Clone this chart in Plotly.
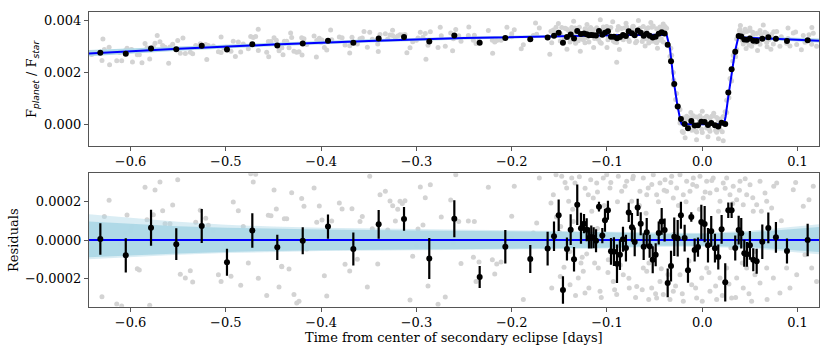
import numpy as np
import plotly.graph_objects as go

# best-fit eclipse model (knots)
model_t = [-0.644, -0.55, -0.45, -0.35, -0.25, -0.15, -0.08, -0.0374, -0.0339, -0.0304, -0.0262,
           -0.0227, -0.0215, 0.0228, 0.0245, 0.0273, 0.0308, 0.0343, 0.0378, 0.071, 0.1225]
model_f = [0.00273, 0.00292, 0.00308, 0.00322, 0.00333, 0.00341, 0.00345, 0.00346, 0.00293, 0.00178, 0.00075,
           0.0001, 0.0, 0.0, 0.0003, 0.00107, 0.00197, 0.0028, 0.00336, 0.0033, 0.00323]

# uncertainty envelope of the fit, residual units (ppm)
band_t = [-0.644, -0.6, -0.55, -0.5, -0.45, -0.4, -0.3, -0.2, -0.1, -0.05, 0.0, 0.05, 0.1, 0.1225]
band_in_hi = [97, 85, 72, 64, 58, 55, 50, 45, 40, 32, 32, 40, 60, 68]
band_in_lo = [-90, -80, -70, -62, -57, -53, -50, -45, -40, -30, -30, -38, -55, -62]
band_out_hi = [135, 115, 95, 80, 70, 64, 57, 50, 44, 37, 37, 48, 72, 82]
band_out_lo = [-100, -88, -77, -68, -62, -58, -54, -49, -44, -35, -35, -44, -65, -75]

# binned points: time, residual (ppm), error (ppm)
bin_t = [-0.6317, -0.605, -0.5785, -0.552, -0.5253, -0.4988, -0.4722, -0.446, -0.4193, -0.3928,
         -0.3662, -0.3396, -0.313, -0.2865, -0.2602, -0.2336, -0.2067, -0.1805, -0.1623, -0.1556,
         -0.1507, -0.1462, -0.142, -0.1381, -0.1346, -0.1312, -0.1273, -0.1241, -0.1213, -0.1189,
         -0.1165, -0.114, -0.1115, -0.1084, -0.1049, -0.1021, -0.099, -0.0958, -0.0927, -0.0895,
         -0.0864, -0.0832, -0.0801, -0.0772, -0.0738, -0.0709, -0.0678, -0.0646, -0.0615, -0.0583,
         -0.0552, -0.052, -0.0489, -0.0457, -0.0426, -0.0395, -0.0363, -0.0328, -0.0294, -0.0258,
         -0.0224, -0.0185, -0.015, -0.0115, -0.008, -0.0045, -0.001, 0.0025, 0.006, 0.0094,
         0.0133, 0.0168, 0.0203, 0.0241, 0.0273, 0.0308, 0.0346, 0.0382, 0.0409, 0.0441,
         0.0469, 0.05, 0.0535, 0.0571, 0.063, 0.0693, 0.0773, 0.0889, 0.1106]
bin_res = [5, -80, 64, -22, 73, -116, 49, -38, -4, 70,
           -47, 82, 110, -96, 111, -193, -35, -99, -45, 19,
           129, -261, -47, 54, -101, 184, 61, 85, 54, 10,
           16, 12, -4, 174, 23, 103, 155, -59, -61, -124,
           -77, 4, -42, 144, 66, -10, 170, 85, -35, 40,
           -33, -103, -77, 37, 97, 52, -224, -136, 17, 9,
           129, 10, -158, 120, -52, -37, 94, 83, -28, 45,
           -43, -89, 56, -221, 155, 155, -42, 52, 35, -69,
           -75, -28, -103, -111, -9, 63, 14, -57, 0]
bin_err = [82, 89, 94, 83, 89, 70, 90, 66, 71, 63,
           86, 75, 62, 107, 97, 57, 87, 73, 88, 77,
           82, 72, 60, 80, 64, 106, 81, 50, 60, 55,
           60, 55, 60, 25, 40, 60, 50, 70, 75, 100,
           80, 65, 70, 50, 75, 75, 45, 60, 70, 75,
           60, 70, 60, 60, 70, 60, 75, 80, 100, 95,
           70, 70, 65, 25, 60, 50, 90, 95, 90, 80,
           75, 65, 75, 100, 40, 40, 65, 75, 80, 70,
           65, 75, 60, 65, 90, 80, 80, 65, 85]

# unbinned points: time, residual (ppm)
raw_t = [-0.630, -0.6225, -0.6275, -0.6145, -0.6093, -0.6037, -0.5988, -0.5929, -0.5908, -0.5848,
         -0.5827, -0.5799, -0.5761, -0.5743, -0.5691, -0.5663, -0.5638, -0.5586, -0.5558, -0.5505,
         -0.5478, -0.5425, -0.5373, -0.5348, -0.5316, -0.5268, -0.5211, -0.5184, -0.5131, -0.5078,
         -0.505, -0.5022, -0.4946, -0.4922, -0.4869, -0.4844, -0.4817, -0.4764, -0.4739, -0.4712,
         -0.4687, -0.4659, -0.4571, -0.4554, -0.4526, -0.4494, -0.447, -0.4442, -0.4413, -0.4386,
         -0.6113, -0.6057, -0.6407,
         -0.4361, -0.4414, -0.4337, -0.4309, -0.4285, -0.4256, -0.4232, -0.4204, -0.418, -0.4151,
         -0.4074, -0.4046, -0.4019, -0.3991, -0.3966, -0.3941, -0.3889, -0.3809, -0.378, -0.3749,
         -0.37, -0.3676, -0.362, -0.3592, -0.3568, -0.3515, -0.349, -0.3463, -0.3406, -0.3382,
         -0.3326, -0.3301, -0.3277, -0.3249, -0.3221, -0.3196, -0.3172, -0.3148, -0.312, -0.3067,
         -0.3039, -0.2983, -0.2959, -0.2931, -0.2907, -0.2878, -0.2854, -0.2773, -0.2739, -0.2697,
         -0.264, -0.2612, -0.2587, -0.2556, -0.2532, -0.2455, -0.2402, -0.2374, -0.2343,
         -0.2392, -0.2245, -0.2203, -0.2157, -0.2112, -0.2178, -0.2, -0.1973, -0.1878, -0.1773,
         -0.1738, -0.171, -0.1588, -0.1563, -0.1535, -0.1486, -0.1475, -0.1451, -0.1423, -0.1402,
         -0.137, -0.1388, -0.1354, -0.1336, -0.1301, -0.1273, -0.1249, -0.1231, -0.1213, -0.1196,
         -0.1171, -0.1144, -0.1108, -0.1091, -0.1073, -0.1039, -0.1003, -0.0986, -0.0969, -0.0934,
         -0.0898, -0.0881, -0.0846, -0.0829, -0.0793, -0.0766, -0.0741, -0.0724, -0.0688, -0.0654,
         -0.0619, -0.0583, -0.0562,
         -0.0619, -0.0567, -0.0514, -0.0479, -0.0444, -0.0391, -0.0374, -0.0321, -0.0304, -0.0269,
         -0.0234, -0.0199, -0.0164, -0.0129, -0.0094, -0.0059, -0.0024, 0.001, 0.0046, 0.0081,
         0.0115, 0.0151, 0.0186, 0.022, 0.0256, 0.0291, 0.0325, 0.0361, 0.0396, 0.043,
         0.0466, 0.0501, 0.0535, 0.0571, 0.0606, 0.0658, 0.0676, 0.0728, 0.0781, 0.0955,
         0.106, 0.1165, -0.0583, -0.0531, -0.0479, -0.0444, -0.0409, -0.0339, -0.0304, -0.0234,
         -0.0199, -0.0111, -0.0059, -0.0006, 0.0046, 0.0081, 0.0151, 0.0186, 0.0256, 0.0308,
         0.0361, 0.043, 0.0466, 0.0518, 0.0553, 0.0606, 0.0676, 0.0746, 0.0815, 0.0885,
         0.0991, 0.1078, 0.1148, 0.12,
         -0.158, -0.153, -0.149, -0.144, -0.139, -0.136, -0.133, -0.129, -0.126, -0.123,
         -0.119, -0.116, -0.113, -0.11, -0.106, -0.103, -0.099, -0.096, -0.092, -0.089,
         -0.086, -0.081, -0.077, -0.073, -0.07, -0.066, -0.063, -0.059, -0.056, -0.053,
         -0.049, -0.046, -0.043, -0.04, -0.036, -0.033, -0.028, -0.025, -0.021, -0.017,
         -0.014, -0.01, -0.007, -0.003, 0.0, 0.003, 0.007, 0.01, 0.014, 0.017,
         0.021, 0.024, 0.028, 0.032, 0.035, 0.039, 0.042, 0.045, 0.049, 0.053,
         0.056, 0.062, 0.068, 0.075, 0.083, 0.092, 0.098, 0.112,
         -0.15, -0.13, -0.11, -0.09, -0.07, -0.05, -0.03, -0.01, 0.01, 0.03,
         0.05, 0.07, 0.09, 0.108, -0.2, -0.3, -0.4, -0.5, -0.6,
         -0.629, -0.622, -0.598, -0.588, -0.572, -0.56, -0.545, -0.52, -0.505, -0.49,
         -0.466, -0.455, -0.44, -0.432, -0.42, -0.405, -0.39, -0.37, -0.355, -0.34,
         -0.325, -0.31, -0.29, -0.275, -0.262, -0.245, -0.22, -0.205, -0.19, -0.175,
         -0.16, -0.151, -0.142, -0.135, -0.128, -0.121, -0.114, -0.107, -0.1, -0.094,
         -0.087, -0.08, -0.0898, -0.067, -0.06, -0.054, -0.047, -0.041,
         -0.018, -0.012, -0.006, 0.0, 0.006, 0.012, 0.017, 0.022,
         0.04, 0.046, 0.05, 0.058, 0.064, 0.072, 0.09, 0.104, 0.115]
raw_res = [-296, 207, 122, -334, -344, 130, 71, -150, -156, 275,
           106, -341, 132, 261, 303, 153, 85, 85, 183, 315,
           -179, -198, -160, -219, 92, 155, 113, 77, 49, -181,
           -216, -49, -189, 198, 153, -236, 71, -120, 346, 303,
           343, -200, -290, 129, 127, 261, 162, -245, -139, 111,
           -21, 35, -42,
           111, -137, -151, 247, -285, -329, -320, 217, 176, -47,
           271, 92, 177, 104, -186, -292, 99, 193, 162, -127,
           -162, 163, -101, 97, 122, -245, 332, 59, -125, 236,
           254, 52, 203, 179, 99, 160, 202, 191, 205, -313,
           -85, 57, 276, 78, 221, -240, 288, -335, 120, -297,
           209, -16, 341, 97, -122, 99, -90, -216, -115,
           97, 275, -103, -125, -115, -177, 124, 280, -311, 37,
           89, 323, 193, 236, 341, 71, 332, -142, 271, 202,
           323, -233, 97, 297, -198, -120, -163, -276, -73, 236,
           315, 219, 297, -146, -268, 323, 341, -103, 271, -216,
           -285, 332, 254, -181, 306, -250, 202, 332, -242, 254,
           -146, 236, -311,
           323, 271, 340, 236, 297, 315, 254, 332, 219, 271,
           341, 236, 306, 254, 323, 280, 332, 219, 306, 245,
           323, 262, 202, 297, 323, 236, 280, 210, 306, 184,
           236, 288, 150, 184, 306, 245, 202, 167, 297, 262,
           176, 280, -163, -250, -303, -216, -285, -311, -268, -181,
           -320, -233, -303, -198, -146, -268, -311, -198, -146, -303,
           -198, -250, -146, -320, -181, -224, -146, -198, -276, -146,
           -181, -77, -146, -216,
           -250, 120, -190, 300, -60, 160, -290, 330, -90, 270,
           -250, 150, -120, 250, -300, 180, -170, 300, -260, 200,
           -130, 280, -200, 320, -300, 180, -260, 140, -120, 290,
           -280, 200, -150, 260, -180, 300, -240, 180, -280, 200,
           -110, 290, -250, 160, -320, 250, -170, 310, -240, 150,
           -290, 270, -230, 190, -300, 260, -120, 320, -280, 220,
           -60, 150, -310, 280, 100, -250, 300, 210,
           40, -20, 60, -30, 20, -50, 30, -20, 50, -40,
           10, -30, 40, -20, 10, -30, 20, -20, 50,
           530, -480, -420, -470, 553, -540, 410, -470, 380, -400,
           618, -463, -412, 420, -450, -540, 480, -438, 373, -420,
           390, -500, -770, 450, -480, 420, -610, 380, -460, 520,
           -700, 480, -520, 560, -600, 430, -460, 600, -470, 520,
           -560, 450, -1050, 560, -430, 480, -520, 420,
           -520, 450, -600, 500, -480, 420, -560, -640,
           460, -420, 380, -470, 520, -400, 450, -380, 500]

ppm = 1e-6
mt = np.array(model_t)
mf = np.array(model_f)
bt = np.array(bin_t)
br = np.array(bin_res) * ppm
be = np.array(bin_err) * ppm
rt = np.array(raw_t)
rr = np.array(raw_res) * ppm

serif = "DejaVu Serif"
blue_fill = "rgba(173,216,230,0.95)"
blue_fill2 = "rgba(173,216,230,0.45)"

fig = go.Figure()

# ---- top panel: flux ratio
fig.add_scatter(x=rt, y=np.interp(rt, mt, mf) + rr, mode="markers", xaxis="x", yaxis="y",
                marker=dict(color="#d3d3d3", size=5), showlegend=False)
top_hi = mf + np.interp(mt, band_t, band_out_hi) * ppm
top_lo = mf + np.interp(mt, band_t, band_out_lo) * ppm
fig.add_scatter(x=mt, y=top_hi, mode="lines", line=dict(width=0), xaxis="x", yaxis="y", showlegend=False)
fig.add_scatter(x=mt, y=top_lo, mode="lines", line=dict(width=0), fill="tonexty", fillcolor=blue_fill,
                xaxis="x", yaxis="y", showlegend=False)
fig.add_scatter(x=mt, y=mf, mode="lines", line=dict(color="#0000ff", width=2), xaxis="x", yaxis="y",
                showlegend=False)
fig.add_scatter(x=bt, y=np.interp(bt, mt, mf) + br, mode="markers", xaxis="x", yaxis="y",
                marker=dict(color="black", size=6), showlegend=False)

# ---- bottom panel: residuals
fig.add_scatter(x=rt, y=rr, mode="markers", xaxis="x2", yaxis="y2",
                marker=dict(color="#d3d3d3", size=5), showlegend=False)
bx = np.array(band_t)
for hi, lo, col in [(band_out_hi, band_out_lo, blue_fill2), (band_in_hi, band_in_lo, blue_fill)]:
    fig.add_scatter(x=bx, y=np.array(hi) * ppm, mode="lines", line=dict(width=0), xaxis="x2", yaxis="y2",
                    showlegend=False)
    fig.add_scatter(x=bx, y=np.array(lo) * ppm, mode="lines", line=dict(width=0), fill="tonexty",
                    fillcolor=col, xaxis="x2", yaxis="y2", showlegend=False)
fig.add_scatter(x=[band_t[0], band_t[-1]], y=[0, 0], mode="lines", line=dict(color="#0000ff", width=2),
                xaxis="x2", yaxis="y2", showlegend=False)
fig.add_scatter(x=bt, y=br, mode="markers", xaxis="x2", yaxis="y2",
                error_y=dict(type="data", array=be, color="black", thickness=2.2, width=0),
                marker=dict(color="black", size=6), showlegend=False)

axis_style = dict(showline=True, linecolor="#555", linewidth=1.2, mirror=True, ticks="outside",
                  ticklen=4, tickcolor="#555", showgrid=False, zeroline=False,
                  tickfont=dict(family=serif, size=13, color="black"))
xdom = [89 / 831, 819 / 831]
fig.update_layout(
    width=831, height=353, margin=dict(l=0, r=0, t=0, b=0),
    paper_bgcolor="white", plot_bgcolor="white",
    xaxis=dict(domain=xdom, range=[-0.6436, 0.1225], anchor="y", dtick=0.1, tickformat=".1f", **axis_style),
    yaxis=dict(domain=[1 - 145.7 / 353, 1 - 11.7 / 353], range=[-0.00083, 0.00435], anchor="x",
               tickvals=[0, 0.002, 0.004], tickformat=".3f", **axis_style),
    xaxis2=dict(domain=xdom, range=[-0.6436, 0.1225], anchor="y2", dtick=0.1, tickformat=".1f", **axis_style),
    yaxis2=dict(domain=[1 - 306.7 / 353, 1 - 173.3 / 353], range=[-0.000348, 0.000348], anchor="x2",
                tickvals=[-0.0002, 0, 0.0002], tickformat=".4f", **axis_style),
    annotations=[
        dict(text="F<sub><span style='font-family:DejaVu Sans'><i>planet</i></span></sub> / "
                  "F<sub><span style='font-family:DejaVu Sans'><i>star</i></span></sub>",
             x=32 / 831, y=1 - 79 / 353, xref="paper", yref="paper", textangle=-90, showarrow=False,
             font=dict(family=serif, size=13, color="black"), xanchor="center", yanchor="middle"),
        dict(text="Residuals", x=13 / 831, y=1 - 240 / 353, xref="paper", yref="paper", textangle=-90,
             showarrow=False, font=dict(family=serif, size=13, color="black"),
             xanchor="center", yanchor="middle"),
        dict(text="Time from center of secondary eclipse [days]", x=454 / 831, y=1 - 337 / 353,
             xref="paper", yref="paper", showarrow=False, font=dict(family=serif, size=13, color="black"),
             xanchor="center", yanchor="middle"),
    ],
)

fig.write_html("out.html", config={"displayModeBar": False},
               post_script="document.body.style.margin='0';")
